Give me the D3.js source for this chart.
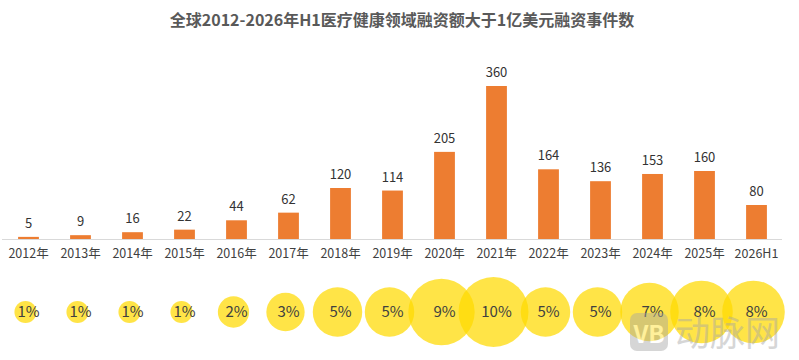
<!DOCTYPE html>
<html>
<head>
<meta charset="utf-8">
<script src="https://cdn.jsdelivr.net/npm/d3@7"></script>
<style>
  body { margin: 0; background: #fff; }
  svg { display: block; font-family: "Noto Sans CJK SC", "Open Sans", sans-serif; }
</style>
</head>
<body>
<svg id="chart"></svg>
<script>
const years = ["2012年", "2013年", "2014年", "2015年", "2016年", "2017年", "2018年", "2019年",
    "2020年", "2021年", "2022年", "2023年", "2024年", "2025年", "2026H1"];
const counts = [5, 9, 16, 22, 44, 62, 120, 114, 205, 360, 164, 136, 153, 160, 80];
const shares = [1, 1, 1, 1, 2, 3, 5, 5, 9, 10, 5, 5, 7, 8, 8]; // %

const width = 799;
const height = 360;

const svg = d3.select("#chart")
    .attr("width", width)
    .attr("height", height);

// title
svg.append("text")
    .attr("x", 402)
    .attr("y", 26)
    .attr("text-anchor", "middle")
    .attr("font-size", 16)
    .attr("font-weight", "bold")
    .attr("fill", "#595959")
    .text("全球2012-2026年H1医疗健康领域融资额大于1亿美元融资事件数");

const x = d3.scaleBand()
    .domain(years)
    .range([2.5, 782.5])
    .paddingInner(0.6)
    .paddingOuter(0.3);

const y = d3.scaleLinear()
    .domain([0, 360])
    .range([239, 86]);

// bars
svg.selectAll(".bar")
    .data(years)
    .enter()
    .append("rect")
    .classed("bar", true)
    .attr("x", d => x(d))
    .attr("width", x.bandwidth())
    .attr("y", (d, i) => y(counts[i]))
    .attr("height", (d, i) => y(0) - y(counts[i]))
    .attr("fill", "#ed7d31");

// baseline
svg.append("line")
    .attr("x1", 2)
    .attr("x2", 782)
    .attr("y1", y(0) + 0.5)
    .attr("y2", y(0) + 0.5)
    .attr("stroke", "#d9d9d9");

// value labels
svg.selectAll(".val")
    .data(years)
    .enter()
    .append("text")
    .attr("x", d => x(d) + x.bandwidth() / 2)
    .attr("y", (d, i) => y(counts[i]) - 9)
    .attr("text-anchor", "middle")
    .attr("font-size", 13)
    .attr("fill", "#333")
    .text((d, i) => counts[i]);

// category axis labels
const xAxis = svg.append("g")
    .attr("transform", `translate(0,${y(0)})`)
    .call(d3.axisBottom(x).tickSize(0).tickPadding(10));
xAxis.select(".domain").remove();
xAxis.selectAll("text")
    .attr("font-size", 12.5)
    .attr("font-family", "\"Noto Sans CJK SC\", sans-serif")
    .attr("fill", "#404040");

// bubbles for share
const r = d3.scaleSqrt().domain([0, 10]).range([0, 35]);

const bubble = svg.selectAll(".bubble")
    .data(years)
    .enter()
    .append("g")
    .attr("transform", d => `translate(${x(d) + x.bandwidth() / 2 - 3},312)`);

bubble.append("circle")
    .attr("r", (d, i) => r(shares[i]))
    .attr("fill", "#ffd900")
    .attr("fill-opacity", 0.72);

// watermark
const wm = svg.append("g").attr("opacity", 0.45);
wm.append("rect")
    .attr("x", 630).attr("y", 313)
    .attr("width", 38).attr("height", 38)
    .attr("rx", 7)
    .attr("fill", "#a6a6a6");
wm.append("text")
    .attr("x", 649).attr("y", 343)
    .attr("text-anchor", "middle")
    .attr("font-size", 24)
    .attr("font-weight", "bold")
    .attr("fill", "#fff")
    .text("VB");
wm.append("text")
    .attr("x", 675).attr("y", 346)
    .attr("font-size", 35)
    .attr("fill", "#a6a6a6")
    .text("动脉网");

bubble.append("text")
    .attr("x", 3)
    .attr("dy", "0.35em")
    .attr("text-anchor", "middle")
    .attr("font-size", 15)
    .attr("fill", "#404040")
    .text((d, i) => shares[i] + "%");
</script>
</body>
</html>
